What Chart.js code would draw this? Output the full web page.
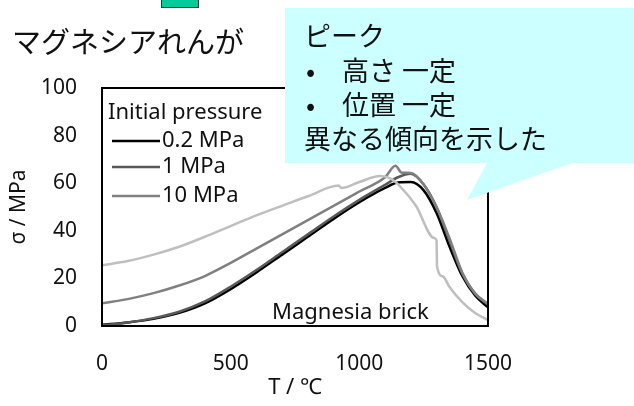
<!DOCTYPE html>
<html>
<head>
<meta charset="utf-8">
<script src="https://cdn.jsdelivr.net/npm/chart.js@4.4.1/dist/chart.umd.min.js"></script>
<style>
  body{margin:0;background:#fff;}
  #wrap{position:relative;width:634px;height:406px;overflow:hidden;font-family:"Noto Sans CJK JP","Noto Sans",sans-serif;color:#111;}
  #chart{position:absolute;left:0;top:0;}
  #tag{position:absolute;left:161px;top:-12px;width:36px;height:18px;background:#00cc99;border:1.5px solid #333;}
  #title{position:absolute;left:12px;top:20px;font-size:29px;line-height:40px;white-space:nowrap;}
  #bubble{position:absolute;left:0;top:0;}
  .note{position:absolute;font-size:27px;line-height:34px;white-space:nowrap;}
  .dot{position:absolute;left:-36px;}
</style>
</head>
<body>
<div id="wrap">
  <canvas id="chart" width="634" height="406"></canvas>
  <div id="tag"></div>
  <div id="title">マグネシアれんが</div>
  <svg id="bubble" width="634" height="406">
    <polygon points="285,8 634,8 634,163 572,163 467,200 487,163 285,163" fill="#ccffff"/>
  </svg>
  <div class="note" style="left:304px;top:18px;">ピーク</div>
  <div class="note" style="left:342px;top:53px;"><span class="dot">•</span>高さ 一定</div>
  <div class="note" style="left:342px;top:87px;"><span class="dot">•</span>位置 一定</div>
  <div class="note" style="left:304px;top:121px;">異なる傾向を示した</div>
</div>
<script>
// temperatures (°C) and stress (MPa)
var tempGrid = [0,100,200,300,400,500,600,700,800,900,1000,1100,1150,1200,1250,1300,1350,1400,1450,1500];
var stress02 = [0.5,1.5,3,5.5,9.5,15.5,22.5,30,37.5,45,52,58,60.3,60.5,57,47.5,33.5,21,12.8,7.8];
var stress1  = [0.3,1.5,3.3,6,10.3,16.5,23.5,31,38.5,46,53,59.3,62.5,64,59.5,50,36,22,13.5,9];

var temp10   = [0,100,200,300,400,500,600,700,800,900,1000,1100,1140,1165,1200,1250,1300,1350,1400,1450,1500];
var stress10 = [9.5,11.3,13.8,17,21,26.5,32.5,38.5,44.5,50.5,56.5,62.5,67.3,64.4,64.3,59.5,50,37,22.5,13.7,9.3];

var tempLight   = [0,100,200,300,400,500,600,700,800,920,930,1000,1080,1120,1160,1220,1290,1300,1302,1325,1350,1400,1450,1500];
var stressLight = [25.5,27.3,30,33.3,37.5,42,46.5,50.5,54.5,59,58,60.5,63,62,58.5,50.5,37,36,25,20.8,16.5,10,5.5,2.5];

var seriesNames  = ['0.2 MPa','1 MPa','10 MPa',''];
var seriesColors = ['#000000','#595959','#808080','#bfbfbf'];
var xTickValues = [0,500,1000,1500];
var yTickValues = [0,20,40,60,80,100];

function pts(xs, ys){
  return xs.map(function(t,i){ return {x:t, y:ys[i]}; });
}

var seriesData = [pts(tempGrid,stress02), pts(tempGrid,stress1), pts(temp10,stress10), pts(tempLight,stressLight)];

var datasets = seriesData.map(function(d,i){
  return {
    label: seriesNames[i],
    data: d,
    borderColor: seriesColors[i],
    borderWidth: 2.5,
    pointRadius: 0,
    fill: false,
    cubicInterpolationMode: 'monotone'
  };
}).reverse(); // black on top

var latin = '"Noto Sans", "Noto Sans CJK JP", sans-serif';

var boxPlugin = {
  id: 'boxAndLegend',
  afterDatasetsDraw: function(chart){
    var a = chart.chartArea, ctx = chart.ctx;
    ctx.save();
    ctx.strokeStyle = '#000';
    ctx.lineWidth = 2;
    ctx.strokeRect(a.left, a.top, a.right - a.left, a.bottom - a.top);
    ctx.restore();
  },
  afterDraw: function(chart){
    var ctx = chart.ctx, a = chart.chartArea;
    ctx.save();
    ctx.font = '22px ' + latin;
    ctx.fillStyle = '#111';
    ctx.textBaseline = 'middle';
    ctx.textAlign = 'left';
    ctx.fillText('Initial pressure', a.left + 6, a.top + 25);
    var rows = [a.top + 53, a.top + 79, a.top + 108];
    for (var i = 0; i < 3; i++) {
      ctx.strokeStyle = seriesColors[i];
      ctx.lineWidth = 2.5;
      ctx.beginPath();
      ctx.moveTo(a.left + 10, rows[i]);
      ctx.lineTo(a.left + 58, rows[i]);
      ctx.stroke();
      ctx.fillText(seriesNames[i], a.left + 60, rows[i]);
    }
    ctx.fillText('Magnesia brick', 272, a.bottom - 13);
    ctx.restore();
  }
};

new Chart(document.getElementById('chart'), {
  type: 'line',
  data: { datasets: datasets },
  options: {
    responsive: false,
    animation: false,
    devicePixelRatio: 1,
    layout: { padding: { top: 88, right: 146, left: 0, bottom: 0 } },
    plugins: { legend: { display: false }, tooltip: { enabled: false } },
    scales: {
      x: {
        type: 'linear', min: 0, max: 1500,
        afterFit: function(s){ s.height = 80; },
        afterBuildTicks: function(s){ s.ticks = xTickValues.map(function(v){ return {value:v}; }); },
        grid: { display: false, drawTicks: false },
        border: { display: false },
        ticks: { color: '#111', font: { size: 21, family: latin }, padding: 25, maxRotation: 0,
                 callback: function(v){ return String(v); } },
        title: { display: true, text: 'T / ℃', color: '#111', font: { size: 22, family: latin }, padding: { top: 0, bottom: 5 } }
      },
      y: {
        min: 0, max: 100,
        afterFit: function(s){ s.width = 102; },
        afterBuildTicks: function(s){ s.ticks = yTickValues.map(function(v){ return {value:v}; }); },
        grid: { display: false, drawTicks: false },
        border: { display: false },
        ticks: { color: '#111', font: { size: 21, family: latin }, padding: 25 },
        title: { display: true, text: 'σ / MPa', color: '#111', font: { size: 21, family: latin }, padding: { top: 6, bottom: 0 } }
      }
    }
  },
  plugins: [boxPlugin]
});
</script>
</body>
</html>
